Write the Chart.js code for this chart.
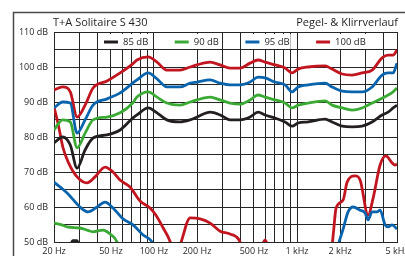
<!DOCTYPE html>
<html><head><meta charset="utf-8">
<script src="https://cdn.jsdelivr.net/npm/chart.js@4.4.1/dist/chart.umd.min.js"></script>
<style>html,body{margin:0;padding:0;background:#fff;overflow:hidden}</style>
</head><body>
<canvas id="c" width="405" height="256"></canvas>
<script>
// ---- text ----
const chartTitle = 'T+A Solitaire S 430';
const chartSubtitle = 'Pegel- & Klirrverlauf';
const seriesNames = ['85 dB', '90 dB', '95 dB', '100 dB'];

// ---- level curves (frequency in Hz, level in dB) ----
const freq = [20, 23, 26, 29, 33, 37.5, 47, 58, 71, 76, 91, 105, 123, 152, 179, 200, 247, 290, 340, 400, 470, 534, 598, 702, 825, 923, 1017, 1195, 1571, 1758, 2066, 2426, 2850, 3348, 3934, 4333, 4696, 5000];
const level85 = [78.3, 80.0, 77.7, 71.1, 76.3, 79.7, 80.6, 82.0, 85.4, 86.3, 88.3, 86.9, 84.9, 84.3, 84.9, 85.7, 87.1, 86.3, 84.9, 84.9, 85.7, 87.1, 86.3, 85.4, 84.3, 83.1, 84.0, 84.3, 85.1, 84.3, 83.1, 82.9, 83.1, 84.3, 86.3, 87.1, 88.3, 89.1];
const level90 = [82.0, 84.9, 84.3, 76.9, 81.1, 84.9, 85.7, 86.9, 89.7, 91.4, 92.9, 91.4, 89.7, 89.1, 90.0, 90.6, 91.4, 90.6, 89.7, 89.4, 90.6, 92.0, 91.4, 90.6, 89.7, 88.3, 89.1, 89.7, 90.3, 89.1, 88.3, 87.7, 88.3, 89.7, 91.1, 92.0, 92.9, 94.0];
const level95 = [88.3, 90.0, 89.7, 81.1, 84.9, 89.1, 90.9, 92.6, 95.4, 96.3, 98.3, 96.6, 94.3, 94.3, 95.4, 95.7, 96.3, 95.4, 94.9, 94.9, 95.7, 97.1, 96.9, 95.7, 94.9, 92.9, 94.3, 94.9, 95.4, 94.3, 93.1, 92.9, 92.9, 94.3, 97.7, 98.3, 98.3, 101.1];
const level100 = [93.4, 94.3, 92.9, 85.7, 89.1, 94.0, 96.0, 98.3, 100.9, 102.0, 102.9, 101.4, 99.1, 99.1, 100.0, 100.6, 101.4, 100.6, 99.7, 99.7, 101.1, 102.0, 101.4, 100.6, 99.7, 98.3, 99.4, 100.0, 100.3, 99.4, 98.0, 97.7, 98.3, 99.1, 102.6, 103.4, 103.4, 104.9];

// ---- distortion curves (values under 50 dB fall below the plot) ----
const thd100Freq = [20, 21.3, 23.1, 25.1, 29.0, 34.0, 38.7, 45.5, 51.7, 57.9, 68.0, 79.9, 93.8, 103, 116, 130, 136, 147, 155, 179, 210, 247, 290, 340, 400, 419, 561, 598, 638, 1730, 1790, 1876, 2100, 2240, 2547, 2760, 3140, 3420, 3808, 4180, 4620, 4848, 5000];
const thd100 = [88.6, 84.0, 77.0, 72.9, 68.6, 66.9, 68.6, 71.4, 70.0, 67.7, 65.7, 61.7, 59.7, 57.7, 54.0, 50.0, 47.0, 47.0, 50.0, 56.9, 56.6, 55.4, 53.1, 52.3, 50.0, 47.0, 48.5, 50.6, 48.5, 47.0, 52.0, 59.7, 62.0, 67.1, 68.9, 67.7, 57.7, 62.9, 72.0, 74.6, 72.6, 72.0, 72.3];
const thd95Freq = [20, 24.7, 30.4, 34.6, 40.0, 45.5, 51.7, 60.8, 71.4, 83.9, 96.9, 103, 1876, 1968, 2100, 2275, 2466, 2760, 2991, 3140, 3348, 3629, 3808, 4128, 4333, 4620, 5000];
const thd95 = [67.1, 64.0, 60.0, 58.6, 60.0, 61.4, 59.7, 56.6, 54.9, 52.0, 50.0, 47.0, 47.0, 50.0, 53.7, 58.6, 60.0, 59.1, 58.3, 56.3, 58.6, 58.6, 59.1, 54.9, 54.3, 54.9, 53.7];
const thd90Freq = [20, 22.7, 24.7, 30.4, 34.0, 37.5, 44.0, 49.3, 55.2, 57.9];
const thd90 = [55.4, 54.9, 54.3, 54.0, 53.4, 52.9, 53.4, 52.3, 50.0, 47.0];
const thd85Freq = [25.9, 27.0, 29.0, 30.0];
const thd85 = [48.5, 50.4, 50.4, 48.5];

// ---- axes ----
const xGridValues = [20, 30, 40, 50, 60, 70, 80, 90, 100, 200, 300, 400, 500, 600, 700, 800, 900, 1000, 2000, 3000, 4000, 5000];
const xLabelValues = [20, 50, 100, 200, 500, 1000, 2000, 5000];
const xLabelTexts = ['20 Hz', '50 Hz', '100 Hz', '200 Hz', '500 Hz', '1 kHz', '2 kHz', '5 kHz'];
const yLabelValues = [50, 60, 70, 80, 90, 100, 110];
const yLabelTexts = ['50 dB', '60 dB', '70 dB', '80 dB', '90 dB', '100 dB', '110 dB'];

const colors = ['#231f20', '#3aaa35', '#0a64ad', '#c1161f'];
const FONT = '"Open Sans", "Noto Sans", sans-serif';
const INK = '#231f20';
const GRID = '#262626';

const pts = (xs, ys) => xs.map((x, i) => ({ x: x, y: ys[i] }));
const mk = (label, xs, ys, color) => ({
  label: label, data: pts(xs, ys), borderColor: color, backgroundColor: color,
  borderWidth: 2.8, pointRadius: 0, cubicInterpolationMode: 'monotone', clip: 0, fill: false
});

const datasets = [
  mk(seriesNames[0], freq, level85, colors[0]),
  mk(seriesNames[1], freq, level90, colors[1]),
  mk(seriesNames[2], freq, level95, colors[2]),
  mk(seriesNames[3], freq, level100, colors[3]),
  mk('k85', thd85Freq, thd85, colors[0]),
  mk('k90', thd90Freq, thd90, colors[1]),
  mk('k95', thd95Freq, thd95, colors[2]),
  mk('k100', thd100Freq, thd100, colors[3])
];

// legend inside the plot, first row, with white boxes over the grid
const legendInside = {
  id: 'legendInside',
  afterDatasetsDraw(chart) {
    const ctx = chart.ctx;
    const area = chart.chartArea;
    const y = area.top + 10;
    let x = 104;
    ctx.save();
    ctx.font = '9.5px ' + FONT;
    ctx.textBaseline = 'middle';
    ctx.textAlign = 'left';
    for (let i = 0; i < 4; i++) {
      const ds = chart.data.datasets[i];
      const tw = ctx.measureText(ds.label).width;
      ctx.fillStyle = '#fff';
      ctx.fillRect(x - 3, area.top + 2, 19 + tw + 4, 15);
      ctx.strokeStyle = ds.borderColor;
      ctx.lineWidth = 3;
      ctx.beginPath();
      ctx.moveTo(x, y); ctx.lineTo(x + 14, y);
      ctx.stroke();
      ctx.fillStyle = INK;
      ctx.fillText(ds.label, x + 19, y + 0.5);
      x += 70.7;
    }
    ctx.restore();
  }
};

const decor = {
  id: 'decor',
  beforeDraw(chart) {
    const ctx = chart.ctx;
    ctx.save();
    ctx.strokeStyle = '#4a4a4a';
    ctx.lineWidth = 1.5;
    ctx.beginPath();
    ctx.moveTo(13.5, 262); ctx.lineTo(13.5, 12.5); ctx.lineTo(412, 12.5);
    ctx.stroke();
    ctx.fillStyle = INK;
    ctx.font = '11px ' + FONT;
    ctx.textBaseline = 'alphabetic';
    ctx.textAlign = 'left';
    ctx.fillText(chartTitle, 53, 26);
    ctx.textAlign = 'right';
    ctx.fillText(chartSubtitle, 398, 26);
    ctx.restore();
  }
};

new Chart(document.getElementById('c'), {
  type: 'line',
  data: { datasets: datasets },
  plugins: [decor, legendInside],
  options: {
    responsive: false, animation: false, devicePixelRatio: 1,
    layout: { padding: { top: 32, right: 8, left: 0, bottom: 0 } },
    plugins: {
      title: { display: false },
      tooltip: { enabled: false },
      legend: { display: false }
    },
    scales: {
      x: {
        type: 'logarithmic', min: 20, max: 5000,
        afterBuildTicks(s) { s.ticks = xGridValues.map(v => ({ value: v })); },
        afterFit(s) { s.height = 14; s.paddingLeft = 0; s.paddingRight = 0; },
        ticks: {
          autoSkip: false, maxRotation: 0, minRotation: 0, padding: 4, color: INK,
          font: { family: FONT, size: 9 },
          callback(v) { const i = xLabelValues.indexOf(v); return i >= 0 ? xLabelTexts[i] : ''; }
        },
        grid: { color: GRID, lineWidth: 1, drawTicks: false },
        border: { color: GRID, width: 1 }
      },
      y: {
        min: 50, max: 110,
        afterFit(s) { s.width = 54; s.paddingTop = 0; s.paddingBottom = 0; },
        ticks: {
          stepSize: 5, autoSkip: false, padding: 6, color: INK,
          font: { family: FONT, size: 9 },
          callback(v) { const i = yLabelValues.indexOf(v); return i >= 0 ? yLabelTexts[i] : ''; }
        },
        grid: { color: GRID, lineWidth: 1, drawTicks: false },
        border: { color: GRID, width: 1 }
      }
    }
  }
});
</script>
</body></html>
